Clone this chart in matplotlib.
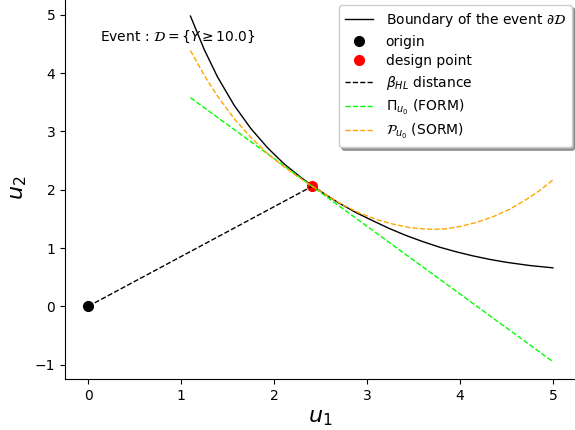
import numpy as np
import matplotlib
matplotlib.use("Agg")
import matplotlib.pyplot as plt

# Frontière de l'événement
boundary_u1 = [1.10, 1.25, 1.39, 1.57, 1.75, 1.93, 2.11, 2.29, 2.41, 2.58, 2.70, 2.88,
               3.06, 3.24, 3.42, 3.60, 3.78, 3.96, 4.14, 4.32, 4.50, 4.75, 5.00]
boundary_u2 = [4.98, 4.40, 3.94, 3.45, 3.05, 2.72, 2.44, 2.21, 2.07, 1.89, 1.77, 1.61,
               1.47, 1.335, 1.215, 1.11, 1.015, 0.935, 0.865, 0.805, 0.755, 0.70, 0.66]

# Approximation SORM (parabole)
sorm_u1 = [1.10, 1.25, 1.39, 1.57, 1.75, 1.93, 2.11, 2.25, 2.41, 2.58, 2.74, 2.92,
           3.10, 3.28, 3.46, 3.60, 3.71, 3.85, 4.00, 4.18, 4.36, 4.54, 4.72, 4.86, 5.00]
sorm_u2 = [4.39, 3.96, 3.61, 3.22, 2.90, 2.62, 2.39, 2.23, 2.06, 1.89, 1.74, 1.60,
           1.49, 1.41, 1.35, 1.33, 1.32, 1.33, 1.37, 1.44, 1.54, 1.67, 1.84, 1.99, 2.17]

# Approximation FORM (droite tangente)
form_u1 = [1.10, 5.00]
form_u2 = [3.58, -0.95]

origin = (0.0, 0.0)
design_point = (2.41, 2.06)
threshold = 10.0

fig = plt.figure(figsize=(5.75, 4.3), dpi=100)
ax = fig.add_axes([0.113, 0.1186, 0.889, 0.887])

ax.plot(boundary_u1, boundary_u2, color="black", lw=1.0,
        label=r"Boundary of the event $\partial \mathcal{D}$")
ax.plot(origin[0], origin[1], "o", color="black", ms=7, label="origin")
ax.plot(design_point[0], design_point[1], "o", color="red", ms=7, label="design point")
ax.plot([origin[0], design_point[0]], [origin[1], design_point[1]], "--",
        color="black", lw=1.0, label=r"$\beta_{HL}$ distance")
ax.plot(form_u1, form_u2, "--", color="#00ff00", lw=1.0, label=r"$\Pi_{u_0}$ (FORM)")
ax.plot(sorm_u1, sorm_u2, "--", color="orange", lw=1.0, label=r"$\mathcal{P}_{u_0}$ (SORM)")

ax.text(0.13, 4.62, r"Event : $\mathcal{D} = \{Y \geq %.1f\}$" % threshold,
        fontsize=10, va="center", ha="left")

ax.set_xlim(-0.25, 5.25)
ax.set_ylim(-1.2475, 5.2975)
ax.set_xticks(range(0, 6))
ax.set_yticks(range(-1, 6))
ax.set_xlabel(r"$u_1$", fontsize=16)
ax.set_ylabel(r"$u_2$", fontsize=16)
ax.spines["top"].set_visible(False)
ax.spines["right"].set_visible(False)

ax.legend(loc="upper right", bbox_to_anchor=(572 / 575, 1 - 5 / 430),
          bbox_transform=fig.transFigure, borderaxespad=0, shadow=True,
          fontsize=10, labelspacing=0.4, handletextpad=0.9, borderpad=0.45)

fig.savefig("out.png", dpi=100)
